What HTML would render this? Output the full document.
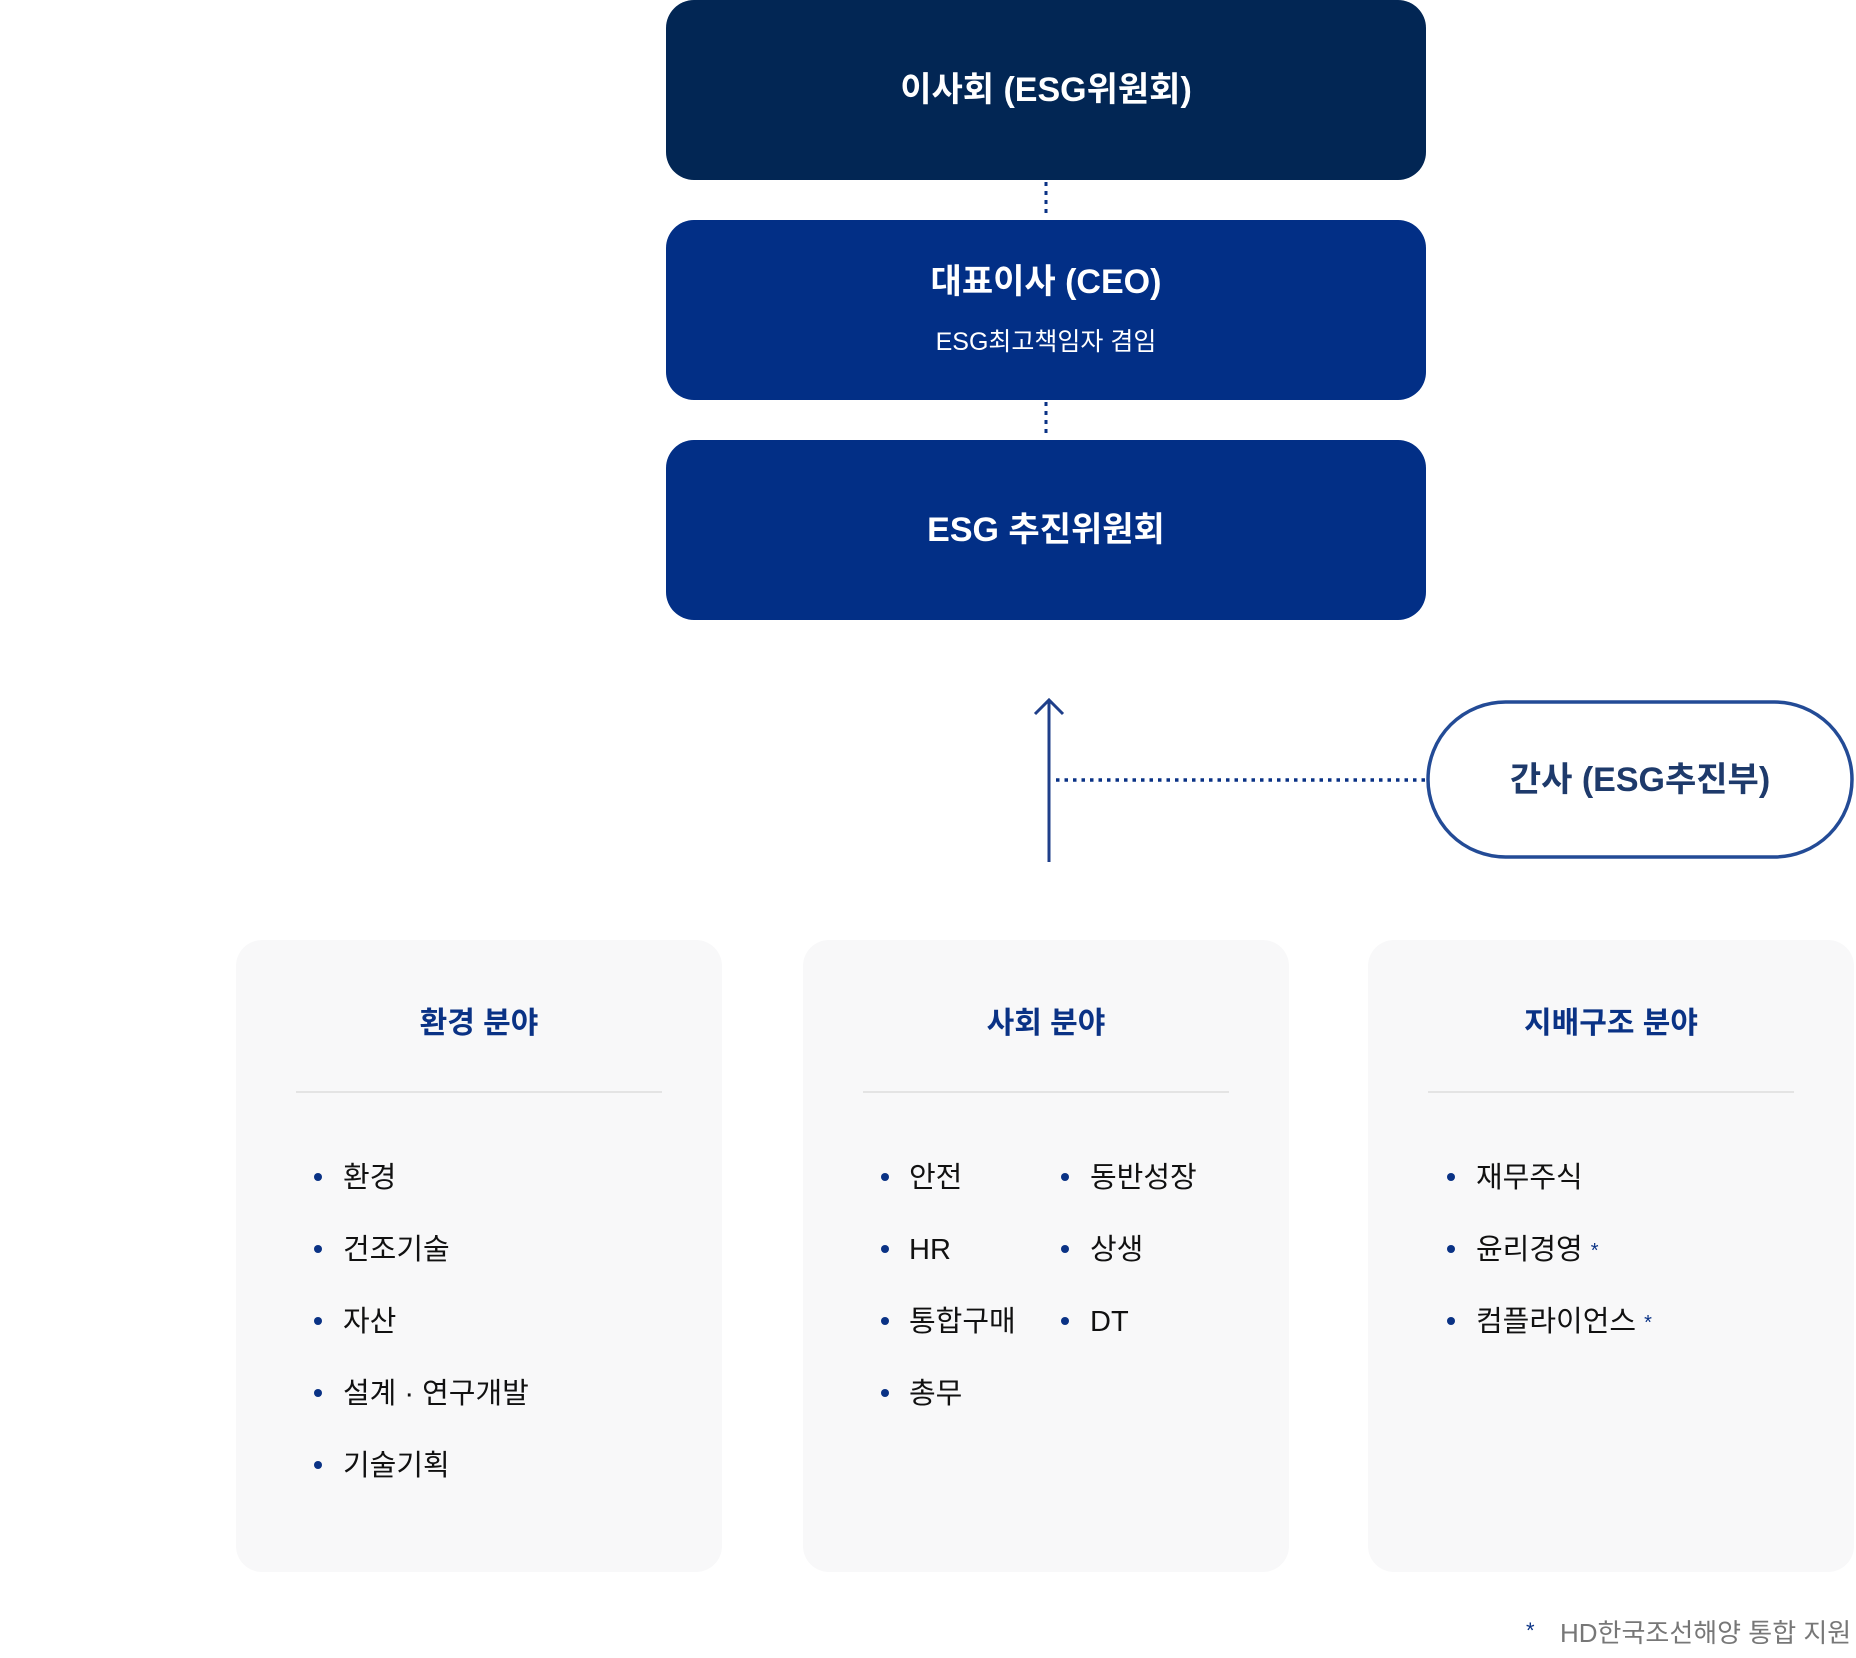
<!DOCTYPE html>
<html><head><meta charset="utf-8"><style>
html,body{margin:0;padding:0;background:#fff;}
body{width:1856px;height:1658px;position:relative;overflow:hidden;font-family:"Liberation Sans","Noto Sans CJK KR",sans-serif;}
.box{position:absolute;left:666px;width:760px;border-radius:28px;color:#fff;text-align:center;}
.t{position:absolute;left:0;right:0;font-weight:bold;font-size:34px;line-height:40px;}
.panel{position:absolute;top:940px;height:632px;width:486px;background:#f8f8f9;border-radius:26px;}
.ph{position:absolute;left:0;right:0;top:1004px;text-align:center;color:#0a3285;font-weight:bold;font-size:30px;line-height:40px;}
.div{position:absolute;height:2px;background:#e4e4e4;top:1091px;}
.it{position:absolute;font-size:29px;line-height:40px;color:#111;white-space:nowrap;}
.dot{position:absolute;width:8px;height:8px;border-radius:50%;background:#0a3285;}
.ast{color:#0a3285;font-size:20px;vertical-align:middle;margin-left:8px;}
</style></head><body>
<div class="box" style="top:0;height:180px;background:#022654;"><div class="t" style="top:70px;">이사회 (ESG위원회)</div></div>
<div class="box" style="top:220px;height:180px;background:#022f86;"><div class="t" style="top:42px;">대표이사 (CEO)</div><div style="position:absolute;left:0;right:0;top:107px;font-size:25px;line-height:30px;">ESG최고책임자 겸임</div></div>
<div class="box" style="top:440px;height:180px;background:#022f86;"><div class="t" style="top:70px;">ESG 추진위원회</div></div>
<svg width="1856" height="1658" style="position:absolute;left:0;top:0;">
<line x1="1046" y1="182" x2="1046" y2="218" stroke="#0a3285" stroke-width="3" stroke-dasharray="4,5"/>
<line x1="1046" y1="402" x2="1046" y2="438" stroke="#0a3285" stroke-width="3" stroke-dasharray="4,5"/>
<line x1="1049" y1="700" x2="1049" y2="862" stroke="#1f3f8a" stroke-width="3"/>
<polyline points="1035,714 1049,700 1063,714" fill="none" stroke="#1f3f8a" stroke-width="3"/>
<line x1="1056" y1="780" x2="1426" y2="780" stroke="#0a3285" stroke-width="3.5" stroke-dasharray="3.5,5"/>
<rect x="1428" y="702" width="424" height="155" rx="77.5" fill="#fff" stroke="#234b96" stroke-width="3.5"/>
</svg>
<div style="position:absolute;left:1428px;width:424px;top:760px;text-align:center;color:#1e3a6b;font-weight:bold;font-size:34px;line-height:40px;">간사 (ESG추진부)</div>

<div class="panel" style="left:236px;"></div>
<div class="panel" style="left:803px;"></div>
<div class="panel" style="left:1368px;"></div>
<div class="ph" style="left:236px;width:486px;right:auto;">환경 분야</div>
<div class="ph" style="left:803px;width:486px;right:auto;">사회 분야</div>
<div class="ph" style="left:1368px;width:486px;right:auto;">지배구조 분야</div>
<div class="div" style="left:296px;width:366px;"></div>
<div class="div" style="left:863px;width:366px;"></div>
<div class="div" style="left:1428px;width:366px;"></div>

<div class="dot" style="left:314px;top:1173px"></div><div class="it" style="left:343px;top:1158px">환경</div>
<div class="dot" style="left:314px;top:1245px"></div><div class="it" style="left:343px;top:1230px">건조기술</div>
<div class="dot" style="left:314px;top:1317px"></div><div class="it" style="left:343px;top:1302px">자산</div>
<div class="dot" style="left:314px;top:1389px"></div><div class="it" style="left:343px;top:1374px">설계 · 연구개발</div>
<div class="dot" style="left:314px;top:1461px"></div><div class="it" style="left:343px;top:1446px">기술기획</div>

<div class="dot" style="left:881px;top:1173px"></div><div class="it" style="left:909px;top:1158px">안전</div>
<div class="dot" style="left:881px;top:1245px"></div><div class="it" style="left:909px;top:1230px">HR</div>
<div class="dot" style="left:881px;top:1317px"></div><div class="it" style="left:909px;top:1302px">통합구매</div>
<div class="dot" style="left:881px;top:1389px"></div><div class="it" style="left:909px;top:1374px">총무</div>
<div class="dot" style="left:1061px;top:1173px"></div><div class="it" style="left:1090px;top:1158px">동반성장</div>
<div class="dot" style="left:1061px;top:1245px"></div><div class="it" style="left:1090px;top:1230px">상생</div>
<div class="dot" style="left:1061px;top:1317px"></div><div class="it" style="left:1090px;top:1302px">DT</div>

<div class="dot" style="left:1447px;top:1173px"></div><div class="it" style="left:1476px;top:1158px">재무주식</div>
<div class="dot" style="left:1447px;top:1245px"></div><div class="it" style="left:1476px;top:1230px">윤리경영<span class="ast">*</span></div>
<div class="dot" style="left:1447px;top:1317px"></div><div class="it" style="left:1476px;top:1302px">컴플라이언스<span class="ast">*</span></div>

<div style="position:absolute;left:1526px;top:1616px;color:#0a3285;font-size:22px;line-height:30px;">*</div>
<div style="position:absolute;left:1560px;top:1615px;color:#777;font-size:26px;line-height:36px;white-space:nowrap;">HD한국조선해양 통합 지원</div>
</body></html>
